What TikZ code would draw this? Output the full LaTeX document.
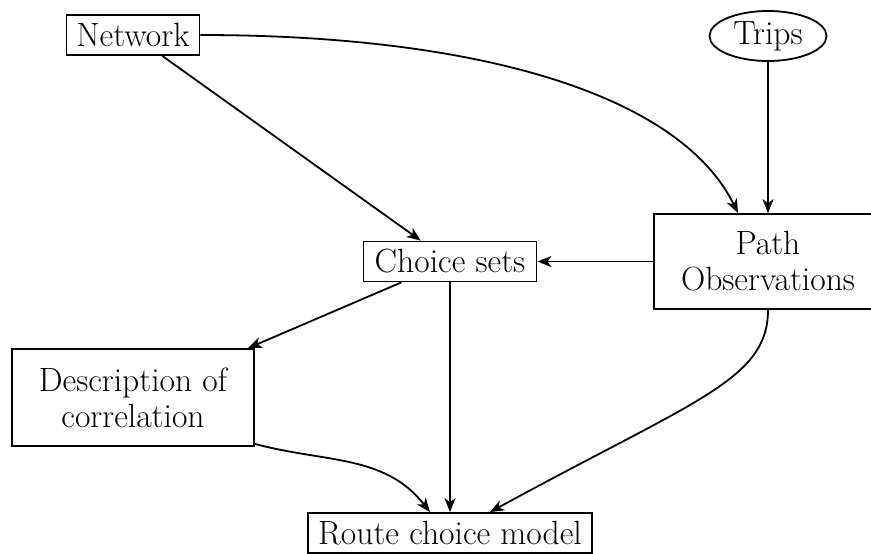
\documentclass[tikz,border=0pt]{standalone}
\usetikzlibrary{arrows.meta,shapes.geometric}
\begin{document}
\begin{tikzpicture}[x=0.5pt,y=-0.5pt,
  font=\fontsize{16.8}{18}\selectfont,
  box/.style={draw, line width=0.9pt, inner sep=0pt, align=center},
  arr/.style={-{Stealth[length=7pt,width=5.5pt,inset=2pt]}, line width=0.9pt}]
\useasboundingbox (0,0) rectangle (871,553);
\node[box, minimum width=66.5pt, minimum height=20pt] (net) at (133,35) {Network};
\node[draw, ellipse, line width=0.9pt, minimum width=58.5pt, minimum height=25pt, inner sep=0pt] (trips) at (768,36) {Trips};
\node[box, minimum width=114pt, minimum height=47.5pt] (path) at (768,261.5) {Path\\Observations};
\node[box, minimum width=86.5pt, minimum height=20pt] (cs) at (450,261.5) {Choice sets};
\node[box, minimum width=121pt, minimum height=48.5pt] (desc) at (133,397.5) {Description of\\correlation};
\node[box, minimum width=142pt, minimum height=20pt] (route) at (450,533) {Route choice model};
\coordinate (n1) at (480,35);
\coordinate (n2) at (680,95);
\coordinate (c1) at (768,380);
\coordinate (c2) at (695,400);
\draw[arr] (net.east) .. controls (n1) and (n2) .. ([xshift=-15pt]path.north);
\draw[arr] (net) -- (cs);
\draw[arr] (trips) -- (path);
\draw[arr] (path) -- (cs);
\draw[arr] (cs) -- (desc);
\draw[arr] (cs) -- (route);
\draw[arr] ([yshift=1.5pt]desc.south east) to[out=-15,in=128] ([xshift=-10pt]route.north);
\draw[arr] (path.south) .. controls (c1) and (c2) .. ([xshift=20pt]route.north);
\end{tikzpicture}
\end{document}
